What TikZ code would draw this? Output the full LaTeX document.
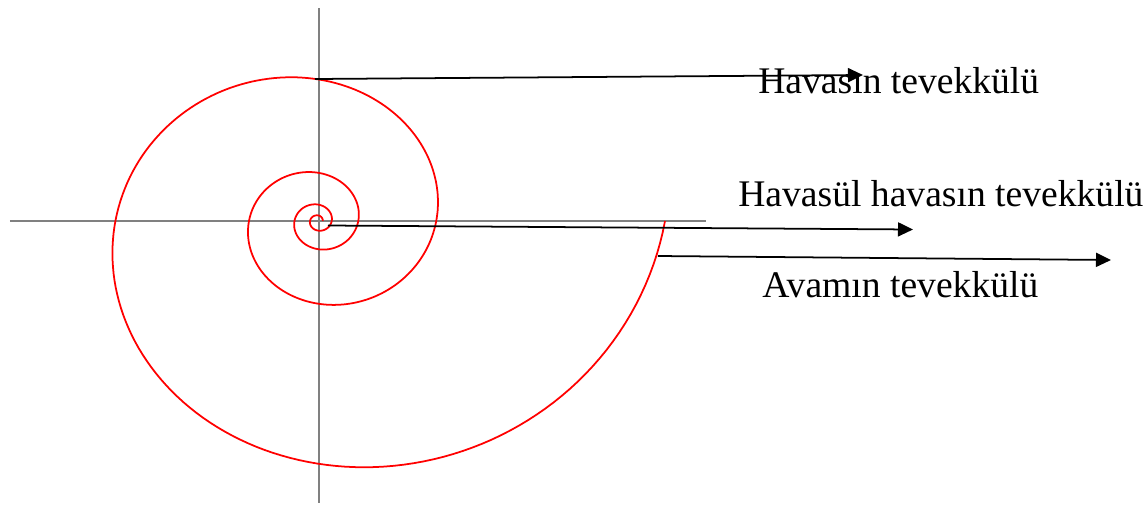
\documentclass[tikz,border=0pt]{standalone}
\usepackage{fontspec}
\setmainfont{Liberation Serif}
\usetikzlibrary{arrows.meta}
\definecolor{axisgray}{RGB}{128,128,128}
\definecolor{spiralred}{RGB}{255,0,0}

\tikzset{
  axis/.style={axisgray, line width=1.4pt},
  spiral/.style={spiralred, line width=1pt},
  pointer/.style={black, line width=1pt, -{Triangle[length=0.3cm,width=0.28cm]}},
  lbl/.style={anchor=base west, inner sep=0pt, font=\fontsize{21.4}{25}\selectfont}
}

\begin{document}
\begin{tikzpicture}[x=0.02cm, y=0.02cm]
    \useasboundingbox (-318,-284) rectangle (826,221);

    % Axes
    \draw[axis] (-308,0) -- (388,0);
    \draw[axis] (1,213) -- (1,-282);

    % Spiral
    \draw[spiral] plot[domain=0:1440, samples=720]
        ({347*exp(-0.002991*\x)*cos(\x)}, {-0.91*349*exp(-0.002991*\x)*sin(\x)});

    % Arrow ends
    \coordinate (topStart) at (-3,142);
    \coordinate (topEnd) at (545,146);
    \coordinate (midStart) at (10,-4.5);
    \coordinate (midEnd) at (595,-8.5);
    \coordinate (lowStart) at (340,-35);
    \coordinate (lowEnd) at (793,-39);

    % Labels
    \node[lbl] (havasLbl) at (440,128) {Havasın tevekkülü};
    \node[lbl] (havasulLbl) at (420,15) {Havasül havasın tevekkülü};
    \node[lbl] (avamLbl) at (444,-76) {Avamın tevekkülü};

    % Arrows
    \draw[pointer] (topStart) -- (topEnd);
    \draw[pointer] (midStart) -- (midEnd);
    \draw[pointer] (lowStart) -- (lowEnd);
\end{tikzpicture}
\end{document}
